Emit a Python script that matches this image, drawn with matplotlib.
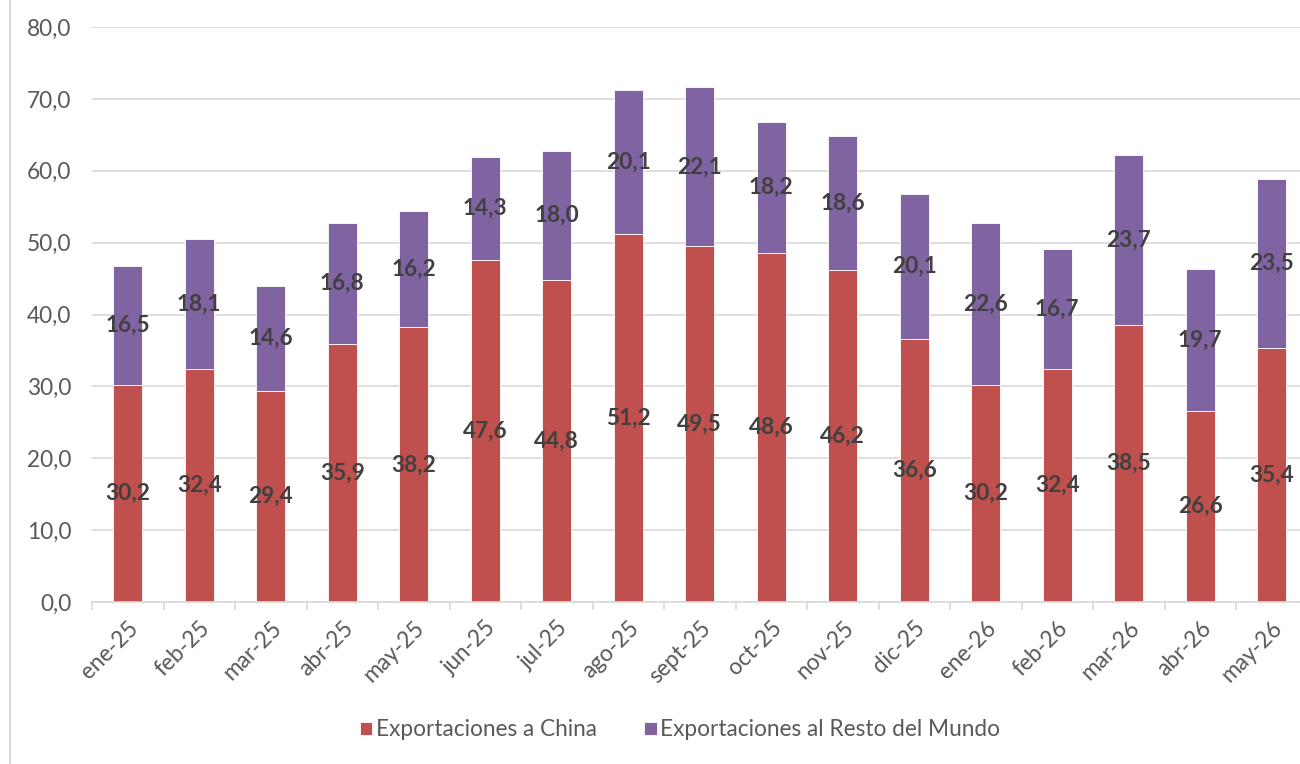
import matplotlib.pyplot as plt
import numpy as np
from matplotlib.lines import Line2D
from matplotlib.ticker import FuncFormatter

plt.rcParams['font.family'] = ['Lato', 'DejaVu Sans']

meses = ['ene-25', 'feb-25', 'mar-25', 'abr-25', 'may-25', 'jun-25', 'jul-25',
         'ago-25', 'sept-25', 'oct-25', 'nov-25', 'dic-25', 'ene-26', 'feb-26',
         'mar-26', 'abr-26', 'may-26']
china = [30.2, 32.4, 29.4, 35.9, 38.2, 47.6, 44.8, 51.2, 49.5, 48.6, 46.2,
         36.6, 30.2, 32.4, 38.5, 26.6, 35.4]
resto = [16.5, 18.1, 14.6, 16.8, 16.2, 14.3, 18.0, 20.1, 22.1, 18.2, 18.6,
         20.1, 22.6, 16.7, 23.7, 19.7, 23.5]

rojo = '#C0504D'
morado = '#8064A2'
gris = '#595959'
grid_c = '#D9D9D9'
fs = 16.3


def coma(v):
    return f'{v:.1f}'.replace('.', ',')


fig = plt.figure(figsize=(13, 7.64), dpi=100)
ax = fig.add_axes([92 / 1300, 1 - 602 / 764, (1307.5 - 92) / 1300, (602 - 27) / 764])

x = np.arange(len(meses))
ax.bar(x, china, width=0.4, color=rojo, edgecolor='white', linewidth=0.6,
       label='Exportaciones a China', zorder=3)
ax.bar(x, resto, width=0.4, bottom=china, color=morado, edgecolor='white',
       linewidth=0.6, label='Exportaciones al Resto del Mundo', zorder=3)

# etiquetas de datos
for i in range(len(meses)):
    ax.text(x[i], china[i] / 2, coma(china[i]), ha='center', va='center',
            fontsize=fs, fontweight='bold', color='#404040', zorder=4)
    ax.text(x[i], china[i] + resto[i] / 2, coma(resto[i]), ha='center',
            va='center', fontsize=fs, fontweight='bold', color='#404040', zorder=4)

ax.set_xlim(-0.5, len(meses) - 0.5)
ax.set_ylim(0, 80)
ax.set_yticks(np.arange(0, 81, 10))
ax.yaxis.set_major_formatter(FuncFormatter(lambda v, p: coma(v)))
ax.grid(axis='y', color=grid_c, linewidth=1.2, zorder=0)

ax.set_xticks(x)
ax.set_xticklabels(meses, rotation=45, ha='right', rotation_mode='anchor')
ax.set_xticks(np.arange(-0.5, len(meses), 1), minor=True)
ax.tick_params(axis='x', which='major', length=0, pad=11, labelsize=fs, labelcolor=gris)
ax.tick_params(axis='x', which='minor', length=6, width=1.2, color=grid_c, direction='out')
ax.tick_params(axis='y', length=0, pad=15, labelsize=fs, labelcolor=gris)

for s in ['top', 'right', 'left']:
    ax.spines[s].set_visible(False)
ax.spines['bottom'].set_color(grid_c)
ax.spines['bottom'].set_linewidth(1.2)
ax.spines['bottom'].set_zorder(5)

# borde izquierdo del grafico
fig.add_artist(Line2D([10 / 1300, 10 / 1300], [0, 1], color=grid_c, linewidth=1.5))

fig.legend(loc='center', bbox_to_anchor=(680 / 1300, 1 - 730 / 764), ncol=2,
           frameon=False, fontsize=fs, labelcolor=gris, handlelength=0.55,
           handleheight=0.55, handletextpad=0.15, columnspacing=2.1)

plt.savefig('out.png', dpi=100)
